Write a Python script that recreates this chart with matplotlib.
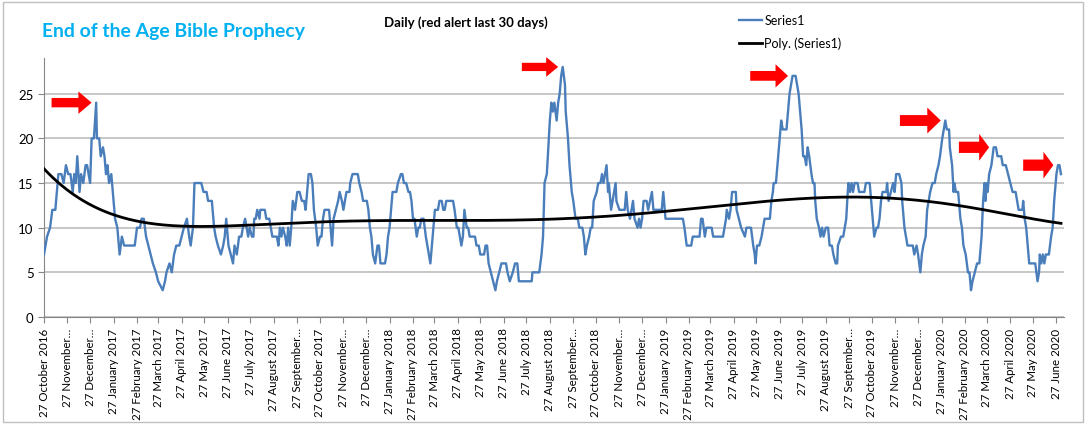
import numpy as np
import pandas as pd
import matplotlib
matplotlib.use("Agg")
import matplotlib.pyplot as plt
import matplotlib.dates as mdates
from matplotlib.patches import FancyArrow, Rectangle

plt.rcParams["font.family"] = ["Lato", "DejaVu Sans"]

# Daily count (red alert last 30 days) at its turning points
START = pd.Timestamp("2016-10-27")
day = [
    0, 4, 8, 11, 15, 17, 19, 23, 26, 29, 32, 35, 38, 40, 42, 44, 47, 49, 52, 55,
    57, 61, 63, 66, 69, 70, 73, 75, 78, 80, 82, 84, 86, 89, 91, 94, 97, 100, 103, 106,
    120, 123, 127, 129, 132, 135, 138, 141, 144, 148, 151, 157, 160, 162, 166, 169, 172, 175, 179, 182,
    185, 189, 192, 194, 197, 199, 208, 211, 215, 217, 222, 225, 227, 230, 234, 237, 239, 241, 244, 247,
    250, 252, 255, 258, 261, 263, 266, 268, 270, 272, 275, 277, 278, 280, 282, 285, 286, 292, 294, 298,
    300, 302, 308, 310, 312, 314, 316, 319, 321, 323, 325, 327, 329, 332, 335, 338, 341, 344, 346, 348,
    350, 353, 355, 357, 360, 362, 365, 367, 369, 371, 377, 379, 381, 383, 386, 389, 391, 394, 396, 398,
    400, 404, 405, 408, 415, 417, 420, 422, 427, 429, 431, 433, 435, 438, 441, 443, 445, 451, 453, 455,
    457, 461, 466, 468, 472, 474, 476, 479, 482, 484, 486, 488, 490, 493, 495, 497, 499, 502, 505, 507,
    509, 511, 514, 517, 521, 523, 526, 528, 530, 532, 541, 543, 546, 548, 550, 552, 554, 556, 559, 561,
    563, 570, 572, 575, 577, 582, 584, 586, 588, 591, 594, 597, 599, 602, 605, 611, 613, 616, 620, 623,
    626, 628, 645, 646, 655, 658, 660, 662, 665, 667, 669, 671, 673, 675, 678, 680, 682, 684, 686, 689,
    690, 693, 695, 698, 700, 703, 706, 708, 712, 714, 716, 718, 721, 723, 725, 727, 731, 733, 736, 738,
    740, 744, 746, 747, 750, 752, 754, 756, 757, 761, 768, 770, 772, 775, 777, 779, 781, 785, 787, 789,
    791, 793, 797, 799, 804, 806, 817, 819, 821, 822, 845, 847, 850, 856, 858, 867, 869, 871, 874, 876,
    883, 885, 898, 900, 902, 903, 906, 908, 910, 915, 916, 919, 922, 927, 929, 935, 938, 940, 941, 943,
    946, 949, 951, 953, 960, 962, 964, 965, 968, 971, 973, 975, 977, 982, 984, 986, 988, 990, 994, 996,
    998, 1000, 1002, 1004, 1006, 1008, 1010, 1012, 1015, 1017, 1019, 1020, 1022, 1025, 1027, 1029, 1031, 1034, 1037, 1039,
    1042, 1044, 1047, 1049, 1050, 1054, 1057, 1059, 1061, 1063, 1064, 1066, 1068, 1070, 1072, 1076, 1078, 1085, 1087, 1092,
    1094, 1096, 1098, 1101, 1103, 1105, 1107, 1109, 1114, 1115, 1117, 1120, 1123, 1125, 1127, 1131, 1134, 1135, 1137, 1138,
    1140, 1142, 1149, 1151, 1154, 1156, 1159, 1161, 1163, 1166, 1168, 1170, 1172, 1175, 1178, 1180, 1183, 1185, 1188, 1190,
    1192, 1194, 1197, 1198, 1201, 1203, 1204, 1206, 1209, 1210, 1212, 1214, 1216, 1219, 1222, 1224, 1226, 1228, 1231, 1234,
    1237, 1240, 1242, 1244, 1245, 1247, 1248, 1250, 1253, 1256, 1259, 1261, 1266, 1268, 1272, 1275, 1278, 1281, 1285, 1287,
    1289, 1294, 1295, 1297, 1299, 1301, 1303, 1311, 1314, 1316, 1317, 1319, 1321, 1323, 1325, 1329, 1332, 1334, 1336, 1339,
    1341, 1343, 1345,
]
count = [
    7, 9, 10, 12, 12, 14, 16, 16, 15, 17, 16, 16, 14, 16, 15, 18, 14, 16, 15, 17,
    17, 15, 20, 20, 24, 20, 20, 18, 19, 18, 16, 17, 15, 16, 14, 11, 10, 7, 9, 8,
    8, 10, 10, 11, 11, 9, 8, 7, 6, 5, 4, 3, 4, 5, 6, 5, 7, 8, 8, 9,
    10, 11, 9, 8, 10, 15, 15, 14, 14, 13, 13, 10, 9, 8, 7, 8, 9, 11, 8, 7,
    6, 8, 7, 9, 9, 10, 11, 10, 9, 10, 9, 9, 11, 11, 12, 11, 12, 12, 11, 11,
    10, 9, 9, 8, 10, 9, 10, 9, 8, 10, 8, 10, 13, 12, 14, 14, 13, 13, 12, 14,
    16, 16, 15, 12, 10, 8, 9, 9, 11, 12, 12, 10, 8, 11, 12, 13, 14, 13, 12, 13,
    14, 14, 15, 16, 16, 15, 14, 13, 13, 12, 10, 9, 7, 6, 8, 8, 6, 6, 7, 9,
    10, 14, 14, 15, 16, 16, 15, 15, 14, 14, 13, 11, 11, 9, 10, 10, 11, 11, 9, 8,
    7, 6, 9, 12, 12, 13, 13, 12, 12, 13, 13, 12, 10, 10, 9, 8, 9, 12, 10, 10,
    9, 9, 8, 8, 7, 7, 8, 8, 6, 5, 4, 3, 4, 5, 6, 6, 5, 4, 5, 6,
    6, 4, 4, 5, 5, 7, 9, 15, 16, 19, 22, 24, 23, 24, 22, 24, 25, 27, 28, 26,
    23, 20, 17, 14, 13, 11, 11, 10, 10, 9, 7, 8, 9, 10, 10, 13, 14, 15, 15, 16,
    15, 17, 14, 15, 12, 13, 14, 15, 13, 12, 12, 14, 12, 11, 12, 13, 11, 10, 11, 10,
    11, 13, 13, 12, 14, 12, 12, 14, 12, 11, 11, 10, 8, 8, 9, 9, 11, 11, 9, 10,
    10, 9, 9, 10, 11, 12, 11, 12, 14, 14, 12, 11, 10, 9, 10, 10, 8, 7, 6, 8,
    8, 9, 10, 11, 11, 13, 14, 15, 15, 18, 20, 22, 21, 21, 23, 25, 26, 27, 27, 26,
    25, 23, 21, 18, 18, 17, 19, 18, 16, 15, 15, 13, 11, 10, 9, 10, 9, 10, 10, 8,
    8, 7, 6, 6, 8, 9, 9, 10, 11, 14, 15, 14, 15, 14, 15, 15, 14, 14, 15, 15,
    13, 11, 9, 10, 10, 11, 13, 14, 14, 15, 13, 14, 15, 14, 16, 16, 15, 13, 11, 10,
    9, 8, 8, 7, 8, 7, 5, 7, 8, 9, 12, 13, 14, 15, 15, 16, 17, 18, 20, 21,
    22, 21, 21, 19, 17, 14, 15, 14, 14, 13, 11, 10, 8, 7, 5, 5, 3, 4, 5, 6,
    6, 9, 13, 15, 13, 15, 14, 16, 17, 19, 19, 18, 18, 17, 17, 16, 15, 14, 14, 13,
    12, 12, 13, 11, 10, 8, 6, 6, 4, 5, 7, 6, 7, 6, 7, 7, 9, 10, 13, 16,
    17, 17, 16,
]

# peaks flagged with red arrows (day offsets)
alert_days = [69, 686, 990, 1192, 1256, 1341]
arrow_len = [53, 48, 50, 54, 40, 40]      # days
arrow_head = [2.5, 2.2, 2.6, 2.9, 3.0, 3.0]

dates = START + pd.to_timedelta(day, unit="D")
x = mdates.date2num(dates)
y = np.array(count, dtype=float)

# Excel-style 6th order polynomial trendline, fitted over every day of the series
all_days = np.arange(day[0], day[-1] + 1)
daily = np.interp(all_days, day, count)
xs = (all_days - 670) / 670.0
coef = np.polyfit(xs, daily, 6)
trend_x = mdates.date2num(START + pd.to_timedelta(all_days, unit="D"))
trend_y = np.polyval(coef, xs)

fig = plt.figure(figsize=(10.87, 4.27), dpi=100)
ax = fig.add_axes([44 / 1087, 109 / 427, 1020 / 1087, 259 / 427])

ax.plot(x, y, color="#4A7EBB", lw=1.7, label="Series1", zorder=3)
ax.plot(trend_x, trend_y, color="black", lw=2.0, label="Poly. (Series1)", zorder=4)

for d, ln, hw in zip(alert_days, arrow_len, arrow_head):
    tip = mdates.date2num(START + pd.Timedelta(days=d - 6))
    peak = np.interp(d, day, count)
    arr = FancyArrow(tip - ln, peak, ln, 0, width=hw * 0.42, head_width=hw,
                     head_length=ln * 0.33, length_includes_head=True,
                     color="#FF0000", lw=0, zorder=5, clip_on=False)
    ax.add_patch(arr)

ax.set_ylim(0, 29)
ax.set_yticks([0, 5, 10, 15, 20, 25])
ax.set_xlim(mdates.date2num(START), mdates.date2num(START + pd.Timedelta(days=1349)))

ticks = pd.date_range(START, "2020-06-27", freq=pd.DateOffset(months=1))
labels = []
for t in ticks:
    s = t.strftime("%d %B %Y")
    if t.month in (9, 11, 12):
        s = s.split(" ")[0] + " " + t.strftime("%B") + "\u2026"
    labels.append(s)
ax.set_xticks(mdates.date2num(ticks))
xlabs = ax.set_xticklabels(labels, rotation=90, fontsize=9)

ax.grid(axis="y", color="#BDBDBD", lw=1.2)
ax.set_axisbelow(True)
for s in ("top", "right"):
    ax.spines[s].set_visible(False)
ax.spines["left"].set_color("#868686")
ax.spines["bottom"].set_color("#868686")
ax.tick_params(axis="both", colors="#868686", labelcolor="black", length=4)
ax.tick_params(axis="y", labelsize=9.5)

title = fig.text(42 / 1087, 1 - 32 / 427, "End of the Age Bible Prophecy", color="#00B0F0",
                 fontsize=14, fontweight="bold", va="center", ha="left")
fig.text(466 / 1087, 1 - 23 / 427, "Daily (red alert last 30 days)", color="black",
         fontsize=9.5, fontweight="bold", va="center", ha="center")

ax.legend(loc="upper left", bbox_to_anchor=(728 / 1087, 1 - 4 / 427),
          bbox_transform=fig.transFigure, frameon=False, fontsize=9,
          handlelength=1.8, handletextpad=0.2, labelspacing=0.85)

fig.patches.append(Rectangle((3 / 1087, 4 / 427), 1080 / 1087, 420 / 427,
                             transform=fig.transFigure, fill=False,
                             ec="#BFBFBF", lw=1))

# size the title and the date labels to the widths they have in the original
r = fig.canvas.get_renderer()
w = title.get_window_extent(r).width
title.set_fontsize(title.get_fontsize() * 265 / w)
h = xlabs[0].get_window_extent(r).height
for lab in xlabs:
    lab.set_fontsize(9 * 88 / h)

fig.savefig("out.png", dpi=100)
